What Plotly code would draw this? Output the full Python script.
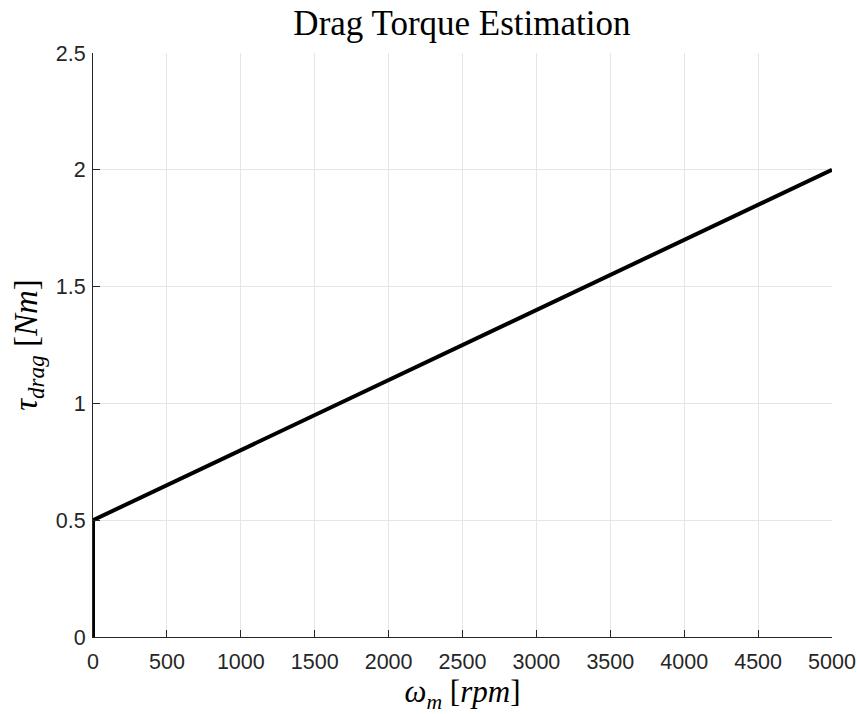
import plotly.graph_objects as go

speed_rpm = [0, 0, 5000]
drag_torque = [0, 0.5, 2.0]
x_ticks = [0, 500, 1000, 1500, 2000, 2500, 3000, 3500, 4000, 4500, 5000]
y_ticks = [0, 0.5, 1, 1.5, 2, 2.5]
y_tick_labels = ["0", "0.5", "1", "1.5", "2", "2.5"]

axis_col = "#262626"
grid_col = "#e5e5e5"

fig = go.Figure()
fig.add_trace(go.Scatter(x=speed_rpm, y=drag_torque, mode="lines",
                         line=dict(color="black", width=4), showlegend=False))

fig.update_layout(
    width=857, height=714,
    paper_bgcolor="white", plot_bgcolor="white",
    margin=dict(l=93, r=25, t=53, b=77, autoexpand=False),
    title=dict(text="Drag Torque Estimation", x=0.539, xanchor="center",
               y=0.968, yanchor="middle",
               font=dict(family="Liberation Serif", size=35, color="black")),
    font=dict(family="Liberation Sans", size=21, color=axis_col),
)
fig.update_xaxes(
    range=[0, 5000], tickvals=x_ticks, ticktext=[str(v) for v in x_ticks],
    showgrid=True, gridcolor=grid_col, gridwidth=1,
    showline=True, linecolor=axis_col, linewidth=1.2,
    ticks="inside", ticklen=7, tickcolor=axis_col, tickwidth=1,
    ticklabelstandoff=5,
    zeroline=False, mirror=False,
    tickfont=dict(family="Liberation Sans", size=21.5, color=axis_col),
    title=dict(text="<i>ω</i><sub><i>m</i></sub> [<i>rpm</i>]", standoff=14,
               font=dict(family="Liberation Serif", size=31, color="black")),
)
fig.update_yaxes(
    range=[0, 2.5], tickvals=y_ticks, ticktext=y_tick_labels,
    showgrid=True, gridcolor=grid_col, gridwidth=1,
    showline=True, linecolor=axis_col, linewidth=1.2,
    ticks="inside", ticklen=7, tickcolor=axis_col, tickwidth=1,
    ticklabelstandoff=2,
    zeroline=False, mirror=False,
    tickfont=dict(family="Liberation Sans", size=21.5, color=axis_col),
    title=dict(text="<i>τ</i><sub><i>drag</i></sub> [<i>Nm</i>]", standoff=8,
               font=dict(family="Liberation Serif", size=33, color="black")),
)

fig.write_html("out.html", config={"displayModeBar": False},
               post_script="document.body.style.margin='0';document.body.style.overflow='hidden';")
